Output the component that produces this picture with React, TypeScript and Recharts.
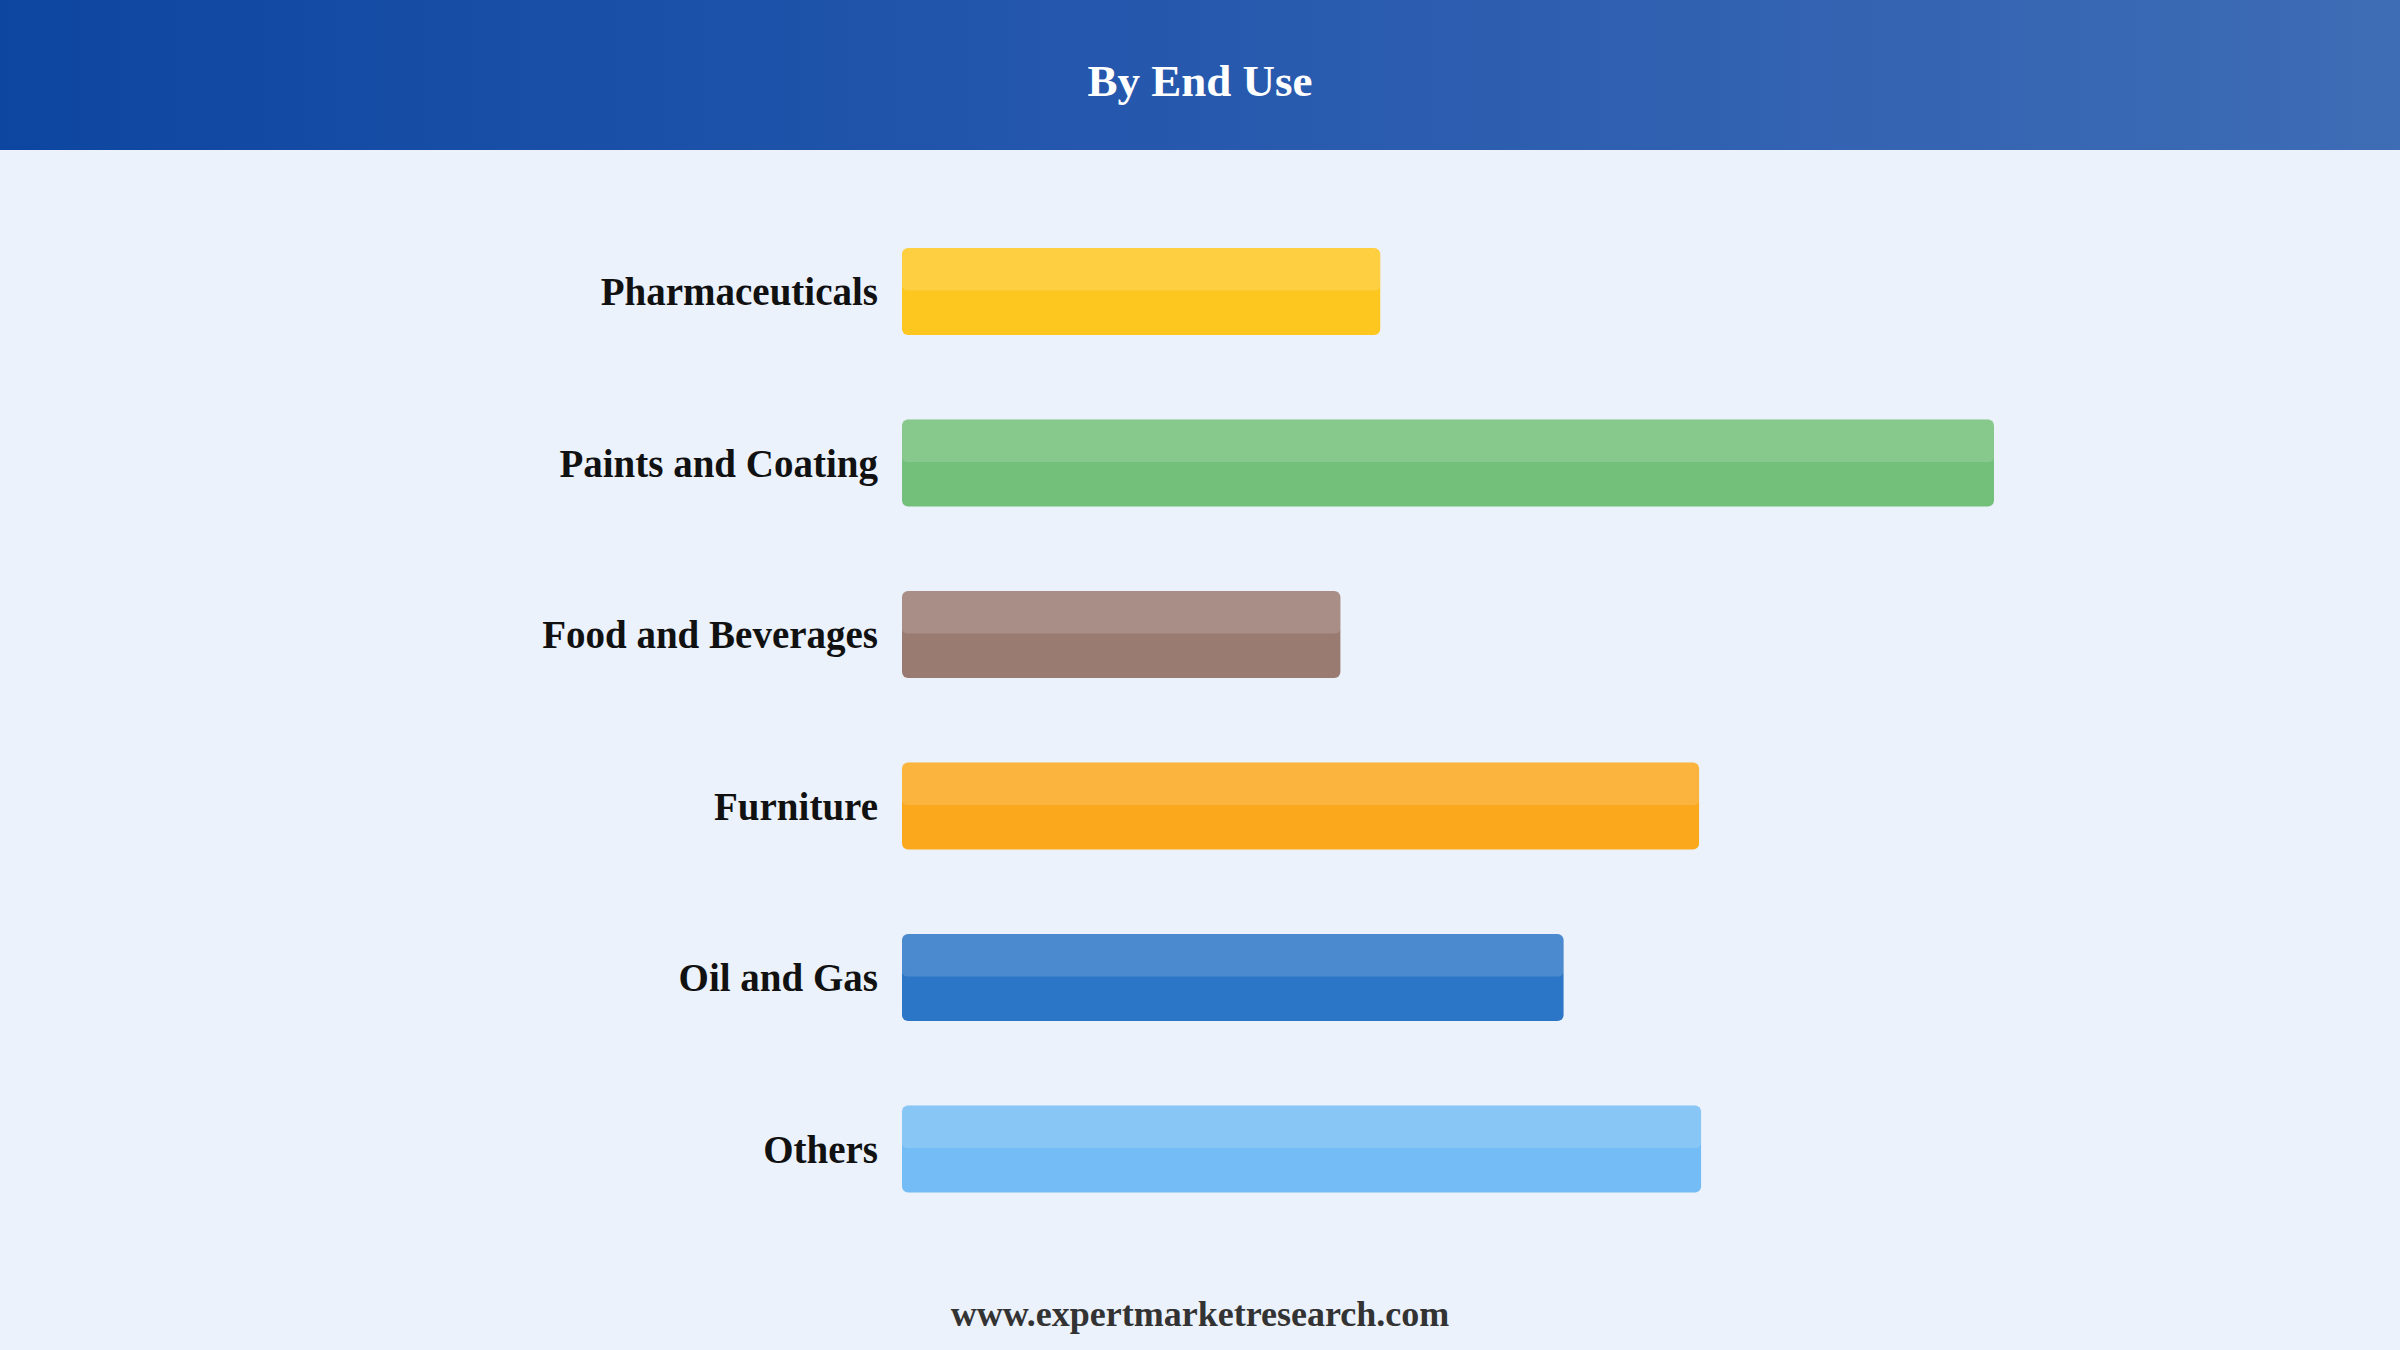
import React from 'react';
import { BarChart, Bar, XAxis, YAxis, Cell } from 'recharts';

const categories = [
  'Pharmaceuticals',
  'Paints and Coating',
  'Food and Beverages',
  'Furniture',
  'Oil and Gas',
  'Others',
];
const shares = [12.0, 27.4, 11.0, 20.0, 16.6, 20.05];

const BAR_COLORS = ['#FDC720', '#72C07A', '#9A7B72', '#FBA81D', '#2C76C7', '#74BCF5'];

const data = categories.map((name, i) => ({ name, value: shares[i] }));

const FONT = '"Liberation Serif", "Times New Roman", serif';

// eslint-disable-next-line @typescript-eslint/no-explicit-any
function LabelTick({ x, y, payload }: any) {
  return (
    <text
      x={x}
      y={y}
      dy="0.35em"
      textAnchor="end"
      fontFamily={FONT}
      fontWeight="bold"
      fontSize={39}
      fill="#111111"
    >
      {payload.value}
    </text>
  );
}

// two-tone bar: solid fill with a lighter band over the top half
// eslint-disable-next-line @typescript-eslint/no-explicit-any
function GlossBar({ x, y, width, height, fill }: any) {
  if (!width || width <= 0) return null;
  return (
    <g>
      <rect x={x} y={y} width={width} height={height} rx={6} ry={6} fill={fill} />
      <rect x={x} y={y} width={width} height={height / 2 - 1} rx={5} ry={5} fill="#ffffff" fillOpacity={0.15} />
    </g>
  );
}

export default function App() {
  return (
    <div
      style={{
        position: 'absolute',
        left: 0,
        top: 0,
        width: 2400,
        height: 1350,
        background: '#EBF2FB',
        overflow: 'hidden',
        fontFamily: FONT,
      }}
    >
      <div
        style={{
          height: 150,
          background: 'linear-gradient(90deg, #0D46A0 0%, #2457AD 45%, #3E6CB5 100%)',
          color: '#ffffff',
          fontWeight: 'bold',
          fontSize: 45,
          textAlign: 'center',
          lineHeight: '162px',
        }}
      >
        By End Use
      </div>
      <div style={{ position: 'absolute', left: 0, top: 0 }}>
        <BarChart
          width={2400}
          height={1350}
          data={data}
          layout="vertical"
          margin={{ top: 206, right: 406, bottom: 115, left: 0 }}
        >
          <XAxis type="number" hide domain={[0, 'dataMax']} />
          <YAxis
            type="category"
            dataKey="name"
            width={902}
            axisLine={false}
            tickLine={false}
            tickSize={0}
            tickMargin={24}
            tick={<LabelTick />}
            interval={0}
          />
          <Bar dataKey="value" barSize={87} shape={<GlossBar />} isAnimationActive={false}>
            {data.map((d, i) => (
              <Cell key={d.name} fill={BAR_COLORS[i]} />
            ))}
          </Bar>
        </BarChart>
      </div>
      <div
        style={{
          position: 'absolute',
          left: 0,
          width: 2400,
          top: 1291,
          textAlign: 'center',
          fontWeight: 'bold',
          fontSize: 36,
          color: '#333333',
          lineHeight: '46px',
        }}
      >
        www.expertmarketresearch.com
      </div>
    </div>
  );
}
